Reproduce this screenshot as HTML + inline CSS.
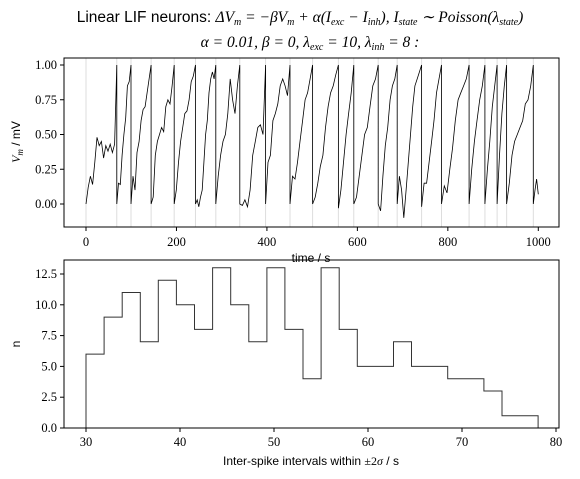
<!DOCTYPE html>
<html><head><meta charset="utf-8"><style>
body{margin:0;background:#fff;}
svg{display:block;}
.sans{font-family:"Liberation Sans",sans-serif;}
.serif{font-family:"Liberation Serif",serif;}
</style></head><body>
<svg id="fig" width="580" height="479" xmlns="http://www.w3.org/2000/svg">
<text x="300" y="22" text-anchor="middle" font-size="15.5" font-family="Liberation Serif, serif"><tspan class="sans">Linear LIF neurons: </tspan><tspan font-style="italic">ΔV<tspan font-size="10" dy="3">m</tspan><tspan dy="-3"> = −βV</tspan><tspan font-size="10" dy="3">m</tspan><tspan dy="-3"> + α(I</tspan><tspan font-size="10" dy="3">exc</tspan><tspan dy="-3"> − I</tspan><tspan font-size="10" dy="3">inh</tspan><tspan dy="-3">),    I</tspan><tspan font-size="10" dy="3">state</tspan><tspan dy="-3"> ∼ Poisson(λ</tspan><tspan font-size="10" dy="3">state</tspan><tspan dy="-3">)</tspan></tspan></text>
<text x="310" y="47" text-anchor="middle" font-size="15.5" font-style="italic" font-family="Liberation Serif, serif">α = 0.01, β = 0, λ<tspan font-size="10" dy="3">exc</tspan><tspan dy="-3"> = 10, λ</tspan><tspan font-size="10" dy="3">inh</tspan><tspan dy="-3"> = 8 :</tspan></text>
<g id="topPanel"></g>
<g id="botPanel"></g>
</svg>
<script>
const spikeTimes=[68,99.5,144,195,242,287,340,397,451,501,558,592,646,688,742,786,847,882,909,930,989];
const segStarts=[0,68,99.5,144,195,242,287,340,397,451,501,558,592,646,688,742,786,847,882,909,930,989];
const segEnds=[68,99.5,144,195,242,287,340,397,451,501,558,592,646,688,742,786,847,882,909,930,989,1000];
const segValues=[
[0,0.12,0.2,0.14,0.3,0.48,0.42,0.45,0.33,0.42,0.38,0.43,0.37,0.43,1],
[0,0.15,0.14,0.35,0.5,0.62,0.85,0.88,1],
[0,0.2,0.1,0.37,0.45,0.6,0.68,0.7,0.8,0.9,1],
[0,0.05,0.35,0.45,0.5,0.55,0.52,0.7,0.75,0.72,0.85,1],
[0,0.1,0.3,0.45,0.55,0.65,0.67,0.75,0.88,0.92,1],
[0,0.03,-0.02,0.05,0.1,0.3,0.5,0.6,0.8,0.9,0.95,0.9,1],
[0,0.2,0.35,0.45,0.5,0.65,0.9,0.75,0.65,0.85,1],
[0,-0.01,0.03,-0.02,0.1,0.35,0.45,0.55,0.57,0.5,1],
[0,0.3,0.35,0.6,0.65,0.72,0.85,0.9,0.85,0.78,1],
[0,0.2,0.18,0.3,0.45,0.6,0.75,0.8,0.9,1],
[0,0.05,0.15,0.27,0.35,0.55,0.7,0.8,0.85,0.93,1],
[-0.03,0.1,0.3,0.5,0.65,0.8,1],
[0,0.05,0.2,0.35,0.5,0.55,0.7,0.85,0.9,1],
[0,-0.05,0.2,0.42,0.55,0.75,0.85,0.9,1],
[0,0.2,0.1,-0.1,0.1,0.3,0.5,0.7,0.85,0.9,0.95,1],
[-0.02,0.15,0.15,0.3,0.45,0.6,0.8,0.9,1],
[0,0.13,0.08,0.25,0.4,0.6,0.75,0.8,0.85,0.9,1],
[0,0.25,0.45,0.6,0.75,0.85,1],
[0,0.25,0.45,0.7,0.85,1],
[0,0.35,0.65,0.85,1],
[0,0.15,0.35,0.45,0.5,0.55,0.6,0.72,0.75,0.85,1],
[0,0.1,0.18,0.07]];
const topYTicks=[0,0.25,0.5,0.75,1];
const topYLabels=["0.00","0.25","0.50","0.75","1.00"];
const topXTicks=[0,200,400,600,800,1000];
const histCounts=[6,9,11,7,12,10,8,13,10,7,13,8,4,13,8,5,5,7,5,5,4,4,3,1,1];
const histStart=30, histBinWidth=1.924;
const botXTicks=[30,40,50,60,70,80];
const botYTicks=[0,2.5,5,7.5,10,12.5];
const botYLabels=["0.0","2.5","5.0","7.5","10.0","12.5"];

const NS="http://www.w3.org/2000/svg";
const SERIF="Liberation Serif, serif";
function mk(parent,tag,attrs,text){const e=document.createElementNS(NS,tag);for(const k in attrs)e.setAttribute(k,attrs[k]);if(text!==undefined)e.textContent=text;parent.appendChild(e);return e;}
const tx=t=>86+t*0.4523, ty=v=>204-v*139;
const bx=x=>86+(x-30)*9.4, by=n=>428-n*12.32;
const topG=document.getElementById('topPanel'), botG=document.getElementById('botPanel');

spikeTimes.concat([0]).forEach(t=>{const l=mk(topG,'line',{x1:tx(t),x2:tx(t),y1:58,y2:227,stroke:'#ddd','stroke-width':1});

});
let pts=[];
segValues.forEach((vals,i)=>{const s=segStarts[i],e=segEnds[i],n=vals.length-1;vals.forEach((v,j)=>{pts.push(tx(s+(e-s)*j/n).toFixed(1)+','+ty(v).toFixed(1));});});
const tr=mk(topG,'polyline',{points:pts.join(' '),fill:'none',stroke:'#000','stroke-width':0.8});


mk(topG,'rect',{x:64,y:58,width:495,height:169,fill:'none',stroke:'#000','stroke-width':1});
topYTicks.forEach((v,i)=>{mk(topG,'line',{x1:60,x2:64,y1:ty(v),y2:ty(v),stroke:'#000'});
const t=mk(topG,'text',{x:57,y:ty(v)+4,'text-anchor':'end','font-size':12.5,'font-family':SERIF},topYLabels[i]);

});
topXTicks.forEach(v=>{mk(topG,'line',{x1:tx(v),x2:tx(v),y1:227,y2:231,stroke:'#000'});
const t=mk(topG,'text',{x:tx(v),y:246,'text-anchor':'middle','font-size':12.5,'font-family':SERIF},v);

});
const xl=mk(topG,'text',{x:311,y:262,'text-anchor':'middle','font-size':12,class:'sans'},'time / s');


const yl=mk(topG,'text',{x:0,y:0,'text-anchor':'middle','font-size':12,class:'sans',transform:'translate(20,142) rotate(-90)'},'');
yl.innerHTML='<tspan font-family="Liberation Serif" font-style="italic">V</tspan><tspan font-family="Liberation Serif" font-style="italic" font-size="9" dy="3">m</tspan><tspan dy="-3"> / mV</tspan>';



let d='M'+bx(histStart)+','+by(0);
histCounts.forEach((c,i)=>{const x0=bx(histStart+i*histBinWidth),x1=bx(histStart+(i+1)*histBinWidth);d+=' L'+x0.toFixed(1)+','+by(c).toFixed(1)+' L'+x1.toFixed(1)+','+by(c).toFixed(1);});
d+=' L'+bx(histStart+histCounts.length*histBinWidth).toFixed(1)+','+by(0);
const h=mk(botG,'path',{d:d,fill:'none',stroke:'#333','stroke-width':1});


mk(botG,'rect',{x:64,y:260,width:495,height:168,fill:'none',stroke:'#000','stroke-width':1});
botYTicks.forEach((v,i)=>{mk(botG,'line',{x1:60,x2:64,y1:by(v),y2:by(v),stroke:'#000'});
const t=mk(botG,'text',{x:57,y:by(v)+4,'text-anchor':'end','font-size':12.5,'font-family':SERIF},botYLabels[i]);

});
botXTicks.forEach(v=>{mk(botG,'line',{x1:bx(v),x2:bx(v),y1:428,y2:432,stroke:'#000'});
const t=mk(botG,'text',{x:bx(v),y:446,'text-anchor':'middle','font-size':12.5,'font-family':SERIF},v);

});
const bxl=mk(botG,'text',{x:311,y:465,'text-anchor':'middle','font-size':12,class:'sans'},'');
bxl.innerHTML='Inter-spike intervals within <tspan font-family="Liberation Serif">±2<tspan font-style="italic">σ</tspan></tspan> / s';


const byl=mk(botG,'text',{x:0,y:0,'text-anchor':'middle','font-size':12,class:'sans',transform:'translate(20,344) rotate(-90)'},'n');


</script>
</body></html>
